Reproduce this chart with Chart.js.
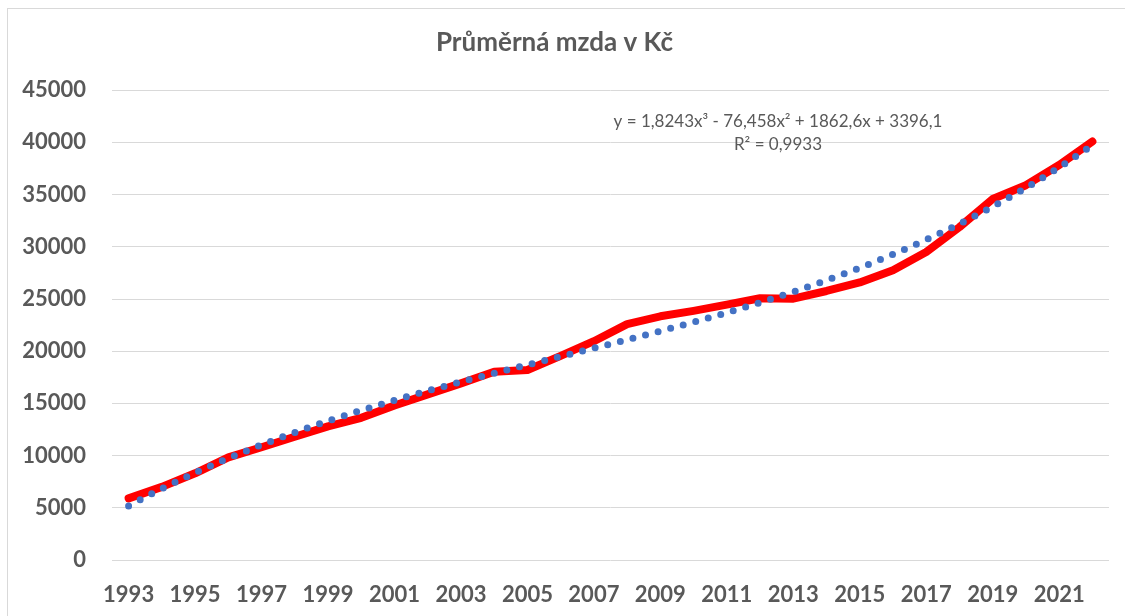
<!DOCTYPE html>
<html>
<head>
<meta charset="utf-8">
<script src="https://cdn.jsdelivr.net/npm/chart.js@4"></script>
<style>
  html, body { margin: 0; padding: 0; background: #fff; overflow: hidden; }
  #wrap { position: relative; width: 1125px; height: 616px; overflow: hidden; }
  #frame { position: absolute; left: 7px; top: 8px; width: 1200px; height: 700px; border: 1px solid #d9d9d9; }
  canvas { position: absolute; left: 0; top: 0; }
</style>
</head>
<body>
<div id="wrap">
  <div id="frame"></div>
  <canvas id="wage-chart" width="1150" height="616"></canvas>
</div>
<script>
// years 1993 - 2022
const years = ['1993', '1994', '1995', '1996', '1997', '1998', '1999', '2000', '2001', '2002',
  '2003', '2004', '2005', '2006', '2007', '2008', '2009', '2010', '2011', '2012',
  '2013', '2014', '2015', '2016', '2017', '2018', '2019', '2020', '2021', '2022'];

// average wage (CZK)
const wages = [5904, 7004, 8307, 9825, 10802, 11801, 12797, 13614, 14793, 15866,
  16917, 18041, 18200, 19546, 20957, 22592, 23344, 23864, 24455, 25067,
  25035, 25768, 26591, 27764, 29504, 31885, 34578, 35902, 37839, 40086];

// polynomial trendline values
const trend = [5184, 6830, 8345, 9740, 11026, 12213, 13314, 14338, 15296, 16201,
  17061, 17890, 18697, 19493, 20289, 21097, 21927, 22790, 23697, 24659,
  25688, 26793, 27986, 29278, 30680, 32202, 33856, 35653, 37603, 39718];

const yTicks = [0, 5000, 10000, 15000, 20000, 25000, 30000, 35000, 40000, 45000];

const chartTitle = 'Průměrná mzda v Kč';
const equationLines = ['y = 1,8243x³ - 76,458x² + 1862,6x + 3396,1', 'R² = 0,9933'];

const grey = '#595959';
const fontFamily = 'Lato, "Open Sans", sans-serif';

// trendline equation label, placed like the Excel data label
const equationLabel = {
  id: 'equationLabel',
  afterDatasetsDraw(chart) {
    const { ctx } = chart;
    ctx.save();
    ctx.fillStyle = grey;
    ctx.font = '17px ' + fontFamily;
    ctx.textAlign = 'center';
    ctx.textBaseline = 'middle';
    ctx.fillText(equationLines[0], 778, 122);
    ctx.fillText(equationLines[1], 778, 145);
    ctx.restore();
  }
};

new Chart(document.getElementById('wage-chart'), {
  type: 'line',
  data: {
    labels: years,
    datasets: [
      {
        label: 'Trend',
        data: trend,
        borderColor: '#4472C4',
        borderWidth: 7,
        borderDash: [0, 13],
        borderCapStyle: 'round',
        pointRadius: 0,
        cubicInterpolationMode: 'monotone',
        fill: false,
        order: 0
      },
      {
        label: 'Průměrná mzda',
        data: wages,
        borderColor: '#FF0000',
        borderWidth: 8,
        borderCapStyle: 'round',
        borderJoinStyle: 'round',
        pointRadius: 0,
        tension: 0,
        fill: false,
        order: 1
      }
    ]
  },
  options: {
    responsive: false,
    animation: false,
    layout: { padding: { left: 0, right: 41, top: 0, bottom: 0 } },
    plugins: {
      legend: { display: false },
      tooltip: { enabled: false },
      title: {
        display: true,
        text: chartTitle,
        color: grey,
        font: { family: fontFamily, size: 26, weight: 'bold' },
        padding: { top: 27, bottom: 32 }
      }
    },
    scales: {
      x: {
        offset: true,
        grid: { display: false },
        border: { display: false },
        ticks: {
          autoSkip: false,
          maxRotation: 0,
          color: grey,
          padding: 14,
          font: { family: fontFamily, size: 22, weight: 'bold' },
          callback: (value, index) => (index % 2 === 0 ? years[index] : '')
        },
        afterFit: (scale) => { scale.height = 56; }
      },
      y: {
        min: 0,
        max: 45000,
        afterBuildTicks: (scale) => { scale.ticks = yTicks.map(v => ({ value: v })); },
        grid: { color: '#d9d9d9', lineWidth: 1, drawTicks: false },
        border: { display: false },
        ticks: {
          color: grey,
          padding: 26,
          font: { family: fontFamily, size: 22, weight: 'bold' },
          callback: (value) => String(value)
        },
        afterFit: (scale) => { scale.width = 112; }
      }
    }
  },
  plugins: [equationLabel]
});
</script>
</body>
</html>
